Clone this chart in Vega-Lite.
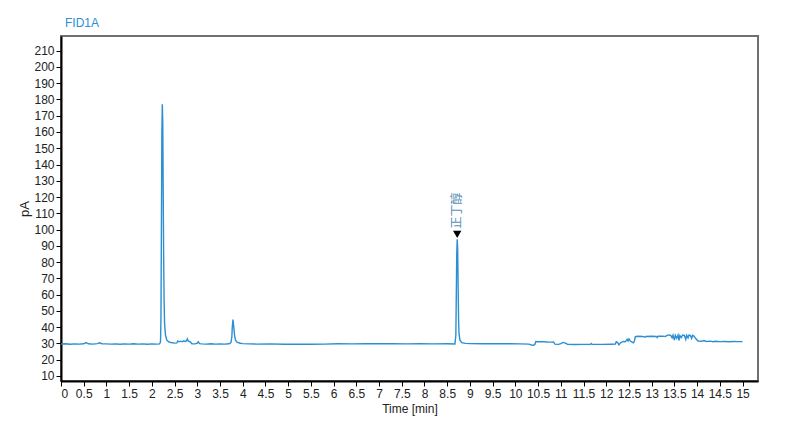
{
  "$schema": "https://vega.github.io/schema/vega-lite/v6.json",
  "width": 697,
  "height": 345,
  "autosize": "none",
  "padding": {"left": 61, "top": 36, "right": 42, "bottom": 51},
  "background": "white",
  "config": {
    "font": "Liberation Sans",
    "view": {"stroke": "#707070", "strokeWidth": 2}
  },
  "title": {"text": "FID1A", "anchor": "start", "dx": 46, "offset": 6, "color": "#2a8fd4", "fontSize": 12, "fontWeight": "normal", "font": "Liberation Sans"},
  "datasets": {
    "chrom": [
      {"t":0,"pA":29.6},{"t":0.1,"pA":29.8},{"t":0.2,"pA":29.5},{"t":0.3,"pA":29.7},{"t":0.4,"pA":29.6},{"t":0.5,"pA":29.8},{"t":0.55,"pA":30.5},{"t":0.6,"pA":29.8},{"t":0.7,"pA":29.6},{"t":0.8,"pA":29.9},{"t":0.85,"pA":30.4},{"t":0.9,"pA":29.8},{"t":1.0,"pA":29.7},{"t":1.1,"pA":29.6},{"t":1.2,"pA":29.7},{"t":1.3,"pA":29.5},{"t":1.4,"pA":29.7},{"t":1.5,"pA":29.6},{"t":1.6,"pA":29.8},{"t":1.7,"pA":29.6},{"t":1.8,"pA":29.7},{"t":1.9,"pA":29.5},{"t":2.0,"pA":29.7},{"t":2.1,"pA":29.6},{"t":2.17,"pA":29.7},
      {"t":2.19,"pA":31},{"t":2.2,"pA":45},{"t":2.21,"pA":100},{"t":2.22,"pA":160},{"t":2.23,"pA":177},{"t":2.24,"pA":165},{"t":2.25,"pA":120},{"t":2.26,"pA":80},{"t":2.27,"pA":55},{"t":2.28,"pA":42},{"t":2.3,"pA":35},{"t":2.33,"pA":32},{"t":2.37,"pA":31},{"t":2.42,"pA":30.6},{"t":2.5,"pA":30.2},{"t":2.55,"pA":30.3},{"t":2.57,"pA":31.5},{"t":2.6,"pA":31},{"t":2.63,"pA":31.4},{"t":2.67,"pA":31},{"t":2.7,"pA":31.6},{"t":2.73,"pA":31.2},{"t":2.76,"pA":31.5},{"t":2.78,"pA":32.8},{"t":2.8,"pA":31.5},{"t":2.85,"pA":30.8},{"t":2.88,"pA":29.8},{"t":2.95,"pA":29.7},{"t":3.0,"pA":30.2},{"t":3.02,"pA":31},{"t":3.05,"pA":29.9},{"t":3.1,"pA":29.7},{"t":3.2,"pA":29.6},{"t":3.3,"pA":29.8},{"t":3.4,"pA":29.6},{"t":3.5,"pA":29.7},{"t":3.6,"pA":29.6},{"t":3.7,"pA":29.8},{"t":3.74,"pA":30.5},{"t":3.76,"pA":34},{"t":3.77,"pA":40},{"t":3.785,"pA":44.7},{"t":3.8,"pA":41},{"t":3.82,"pA":35},{"t":3.84,"pA":32},{"t":3.88,"pA":30.6},{"t":3.95,"pA":30.1},{"t":4.0,"pA":29.9},
      {"t":4.3,"pA":29.6},{"t":4.6,"pA":29.7},{"t":4.9,"pA":29.5},{"t":5.2,"pA":29.6},{"t":5.5,"pA":29.5},{"t":5.8,"pA":29.6},{"t":6.1,"pA":29.8},{"t":6.4,"pA":29.7},{"t":6.7,"pA":29.9},{"t":7.0,"pA":29.8},{"t":7.3,"pA":29.9},{"t":7.6,"pA":29.7},{"t":7.9,"pA":29.8},{"t":8.2,"pA":29.7},{"t":8.5,"pA":29.8},{"t":8.67,"pA":29.7},
      {"t":8.69,"pA":35},{"t":8.7,"pA":60},{"t":8.71,"pA":85},{"t":8.72,"pA":94},{"t":8.73,"pA":88},{"t":8.74,"pA":65},{"t":8.75,"pA":45},{"t":8.76,"pA":36},{"t":8.78,"pA":32},{"t":8.82,"pA":30.5},{"t":8.9,"pA":30},
      {"t":9.0,"pA":29.9},{"t":9.3,"pA":29.8},{"t":9.6,"pA":29.9},{"t":9.9,"pA":29.8},{"t":10.1,"pA":29.7},{"t":10.3,"pA":29.6},{"t":10.36,"pA":29.0},{"t":10.4,"pA":28.8},{"t":10.43,"pA":29.5},{"t":10.45,"pA":31.2},{"t":10.5,"pA":31.0},{"t":10.6,"pA":31.1},{"t":10.7,"pA":30.9},{"t":10.8,"pA":30.8},{"t":10.84,"pA":30.9},{"t":10.87,"pA":29.6},{"t":10.95,"pA":29.4},{"t":11.0,"pA":29.9},{"t":11.05,"pA":30.6},{"t":11.1,"pA":30.2},{"t":11.15,"pA":29.4},{"t":11.3,"pA":29.3},{"t":11.5,"pA":29.4},{"t":11.65,"pA":29.4},{"t":11.67,"pA":30},{"t":11.69,"pA":29.4},{"t":11.9,"pA":29.4},{"t":12.1,"pA":29.5},{"t":12.2,"pA":29.6},{"t":12.22,"pA":31.0},{"t":12.25,"pA":30.5},{"t":12.28,"pA":29.2},{"t":12.32,"pA":30.5},{"t":12.38,"pA":31.2},{"t":12.42,"pA":31.0},{"t":12.46,"pA":32.5},{"t":12.48,"pA":31.5},{"t":12.5,"pA":32.8},{"t":12.53,"pA":31.5},{"t":12.57,"pA":30.8},{"t":12.6,"pA":30.4},{"t":12.62,"pA":31.5},{"t":12.64,"pA":34.2},{"t":12.7,"pA":34.4},{"t":12.8,"pA":34.3},{"t":12.85,"pA":33.8},{"t":12.87,"pA":34.3},{"t":13.0,"pA":34.4},{"t":13.1,"pA":34.3},{"t":13.12,"pA":33.6},{"t":13.14,"pA":34.4},{"t":13.25,"pA":34.5},{"t":13.3,"pA":34.2},{"t":13.32,"pA":34.6},{"t":13.37,"pA":35.2},{"t":13.42,"pA":35.0},{"t":13.45,"pA":33.5},{"t":13.47,"pA":35.1},{"t":13.5,"pA":32.0},{"t":13.52,"pA":35.0},{"t":13.55,"pA":33.2},{"t":13.58,"pA":35.2},{"t":13.6,"pA":31.8},{"t":13.62,"pA":34.8},{"t":13.65,"pA":33.5},{"t":13.68,"pA":35.1},{"t":13.72,"pA":34.9},{"t":13.75,"pA":32.5},{"t":13.77,"pA":35.0},{"t":13.8,"pA":33.4},{"t":13.82,"pA":35.1},{"t":13.85,"pA":34.9},{"t":13.88,"pA":33.0},{"t":13.9,"pA":35.0},{"t":13.93,"pA":34.5},{"t":13.97,"pA":33.0},{"t":14.02,"pA":31.5},{"t":14.1,"pA":31.3},{"t":14.15,"pA":31.8},{"t":14.2,"pA":31.2},{"t":14.3,"pA":31.4},{"t":14.35,"pA":31.0},{"t":14.4,"pA":31.3},{"t":14.5,"pA":31.1},{"t":14.6,"pA":31.2},{"t":14.7,"pA":31.0},{"t":14.8,"pA":31.2},{"t":14.9,"pA":31.1},{"t":15.0,"pA":31.1}
    ],
    "marker": [{"t": 8.72, "pA": 97, "label": "正丁醇"}]
  },
  "layer": [
    {
      "data": {"name": "chrom"},
      "mark": {"type": "line", "color": "#2a8fd4", "strokeWidth": 1.4, "clip": true},
      "encoding": {
        "x": {"field": "t", "type": "quantitative", "scale": {"domain": [0, 15.34], "nice": false, "zero": false},
          "axis": {"values": [0,0.5,1,1.5,2,2.5,3,3.5,4,4.5,5,5.5,6,6.5,7,7.5,8,8.5,9,9.5,10,10.5,11,11.5,12,12.5,13,13.5,14,14.5,15], "tickCount": 100, "format": "~g", "labelOverlap": false, "labelFontSize": 12, "labelColor": "#222", "labelPadding": 2, "tickColor": "black", "tickSize": 5, "domainColor": "black", "domainWidth": 2, "grid": false, "title": "Time [min]", "titleFontSize": 12, "titleFontWeight": "normal", "titlePadding": 4, "titleColor": "#222"}},
        "y": {"field": "pA", "type": "quantitative", "scale": {"domain": [6.9, 219], "nice": false, "zero": false},
          "axis": {"values": [10,20,30,40,50,60,70,80,90,100,110,120,130,140,150,160,170,180,190,200,210], "tickCount": 100, "format": "d", "labelOverlap": false, "labelFontSize": 12, "labelColor": "#222", "labelPadding": 2, "tickColor": "black", "tickSize": 5, "domainColor": "black", "domainWidth": 2, "grid": false, "title": "pA", "titleFontSize": 13, "titleFontWeight": "normal", "titlePadding": 2, "titleColor": "#222"}}
      }
    },
    {
      "data": {"name": "marker"},
      "mark": {"type": "point", "shape": "triangle-down", "filled": true, "color": "black", "size": 70, "opacity": 1},
      "encoding": {
        "x": {"field": "t", "type": "quantitative"},
        "y": {"field": "pA", "type": "quantitative"}
      }
    },
    {
      "data": {"name": "marker"},
      "mark": {"type": "text", "angle": 270, "align": "left", "baseline": "middle", "dx": 6, "font": "Noto Sans CJK SC", "fontSize": 12, "color": "#5a8fb8"},
      "encoding": {
        "x": {"field": "t", "type": "quantitative"},
        "y": {"field": "pA", "type": "quantitative"},
        "text": {"field": "label"}
      }
    }
  ]
}
